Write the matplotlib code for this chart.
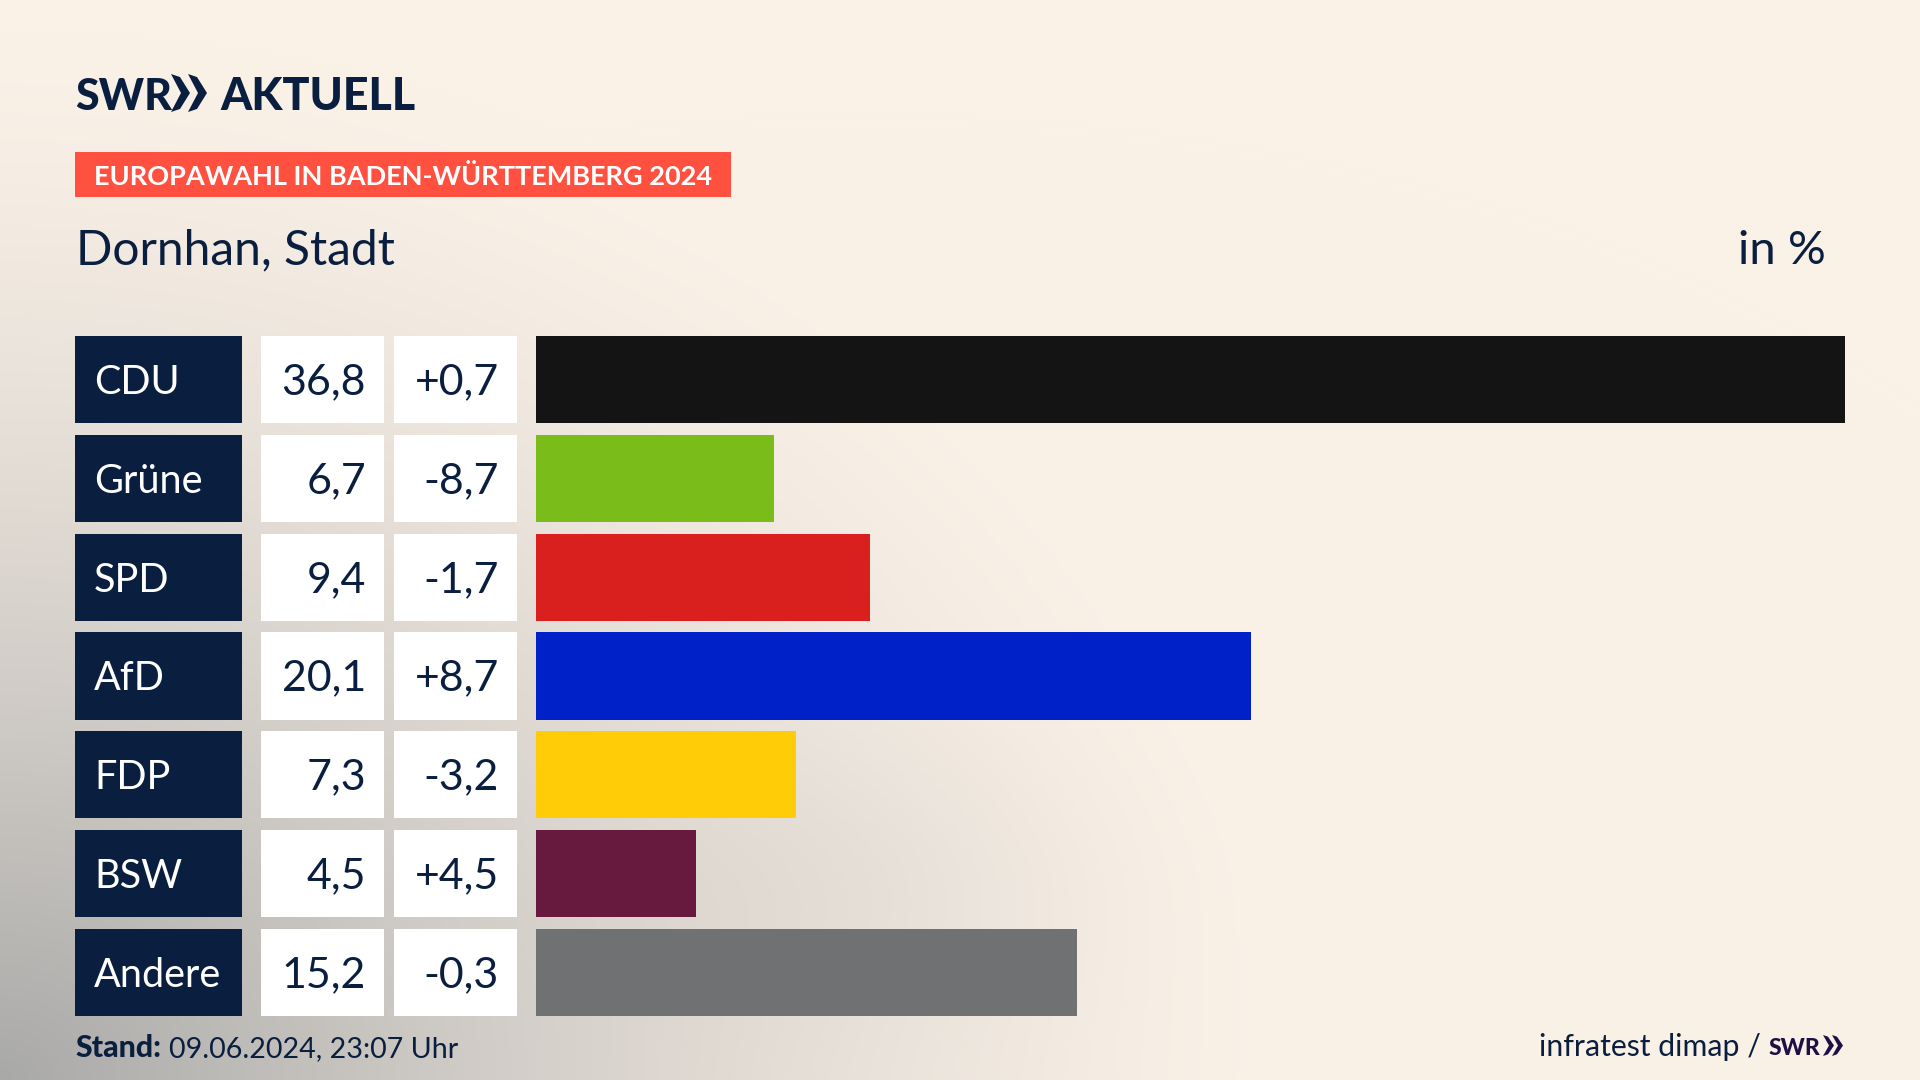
import numpy as np
import matplotlib
matplotlib.use("Agg")
import matplotlib.pyplot as plt
from matplotlib.patches import Polygon, Rectangle
from matplotlib.colors import to_rgb

parties = ["CDU", "Grüne", "SPD", "AfD", "FDP", "BSW", "Andere"]
shares = [36.8, 6.7, 9.4, 20.1, 7.3, 4.5, 15.2]
changes = [0.7, -8.7, -1.7, 8.7, -3.2, 4.5, -0.3]
colors = ["#141414", "#7ABD1A", "#D9201E", "#0020C8", "#FFCC07", "#67193E", "#707173"]

NAVY = "#0A1F3F"
W, H = 1920, 1080
FONT = "Lato"
plt.rcParams["font.family"] = [FONT, "DejaVu Sans"]

def de(v, sign=False):
    s = f"{v:+.1f}" if sign else f"{v:.1f}"
    return s.replace(".", ",")

def px_axes(fig, x0, y0, x1, y1):
    return fig.add_axes([x0 / W, 1 - y1 / H, (x1 - x0) / W, (y1 - y0) / H])

fig = plt.figure(figsize=(W / 100, H / 100), dpi=100)

# background gradient
bg = px_axes(fig, 0, 0, W, H)
yy, xx = np.mgrid[0:H:270j, 0:W:480j]
cream = np.array(to_rgb("#FAF1E7"))
grey = np.array(to_rgb("#A9A9A8"))
d = np.sqrt((xx / 1300.0) ** 2 + ((H - yy) / 1050.0) ** 2)
a = np.clip(1 - d, 0, 1) ** 1.45
blob = 0.07 * np.exp(-(((xx - 860) / 230.0) ** 2 + ((yy - 880) / 130.0) ** 2))
a = np.clip(a + blob, 0, 1)
img = cream[None, None, :] * (1 - a[..., None]) + grey[None, None, :] * a[..., None]
bg.imshow(img, extent=(0, W, H, 0), aspect="auto", interpolation="bilinear")
bg.set_xlim(0, W)
bg.set_ylim(H, 0)
bg.axis("off")

# header band and logo
bg.add_patch(Rectangle((75, 152), 656, 45, color="#FF5040", lw=0))
bg.text(94, 185, "EUROPAWAHL IN BADEN-WÜRTTEMBERG 2024", color="white", fontsize=19.5,
        fontweight="bold", va="baseline", ha="left")
bg.text(76, 264, "Dornhan, Stadt", color=NAVY, fontsize=34.6, va="baseline", ha="left")
bg.text(1826, 264, "in %", color=NAVY, fontsize=34, va="baseline", ha="right")

bg.text(75, 110, "SWR", color=NAVY, fontsize=31, fontweight=900, va="baseline", ha="left")
bg.text(220, 110, "AKTUELL", color=NAVY, fontsize=32.2, fontweight=900, va="baseline", ha="left")

def chevrons(x, y0, y1, w, step, t, c):
    m = (y0 + y1) / 2
    for k in range(2):
        o = x + k * step
        bg.add_patch(Polygon([(o, y0), (o + t, y0 + (y1 - y0) * 0.08), (o + w, m),
                              (o + t, y1 - (y1 - y0) * 0.08), (o, y1), (o + w - t, m)],
                             closed=True, color=c, lw=0))

chevrons(171, 74, 112, 19, 17, 9, NAVY)

# footer
bg.text(75, 1057, "Stand:", color=NAVY, fontsize=21.8, fontweight=900, va="baseline", ha="left")
bg.text(169, 1057, "09.06.2024, 23:07 Uhr", color=NAVY, fontsize=20.6, va="baseline", ha="left")
bg.text(1761, 1056, "infratest dimap /", color=NAVY, fontsize=21.8, va="baseline", ha="right")
bg.text(1769, 1055, "SWR", color="#1F0F45", fontsize=16.5, fontweight=900, va="baseline", ha="left")
chevrons(1823, 1035, 1056, 11, 9, 5, "#1F0F45")

# rows
n = len(parties)
ypos = np.arange(n)
BAR_H = 0.885
TOP, BOTTOM = 336, 1016

def col_axes(x0, x1):
    ax = px_axes(fig, x0, TOP, x1, BOTTOM)
    ax.set_ylim(n - 1 + BAR_H / 2, -BAR_H / 2)
    ax.axis("off")
    ax.patch.set_alpha(0)
    return ax

ax_name = col_axes(75, 242)
ax_val = col_axes(261, 384)
ax_chg = col_axes(394, 517)
ax_bar = col_axes(536, 1845)

for ax, c in ((ax_name, NAVY), (ax_val, "white"), (ax_chg, "white")):
    ax.barh(ypos, 1, height=BAR_H, color=c, lw=0)
    ax.set_xlim(0, 1)

ax_bar.barh(ypos, shares, height=BAR_H, color=colors, lw=0)
ax_bar.set_xlim(0, max(shares))

BASE = -14.5
for i in ypos:
    ax_name.annotate(parties[i], (0, i), xytext=(19, BASE), xycoords="data", textcoords="offset pixels",
                     color="white", fontsize=28.5, ha="left", va="baseline")
    ax_val.annotate(de(shares[i]), (1, i), xytext=(-18, BASE), xycoords="data", textcoords="offset pixels",
                    color=NAVY, fontsize=30.9, ha="right", va="baseline")
    ax_chg.annotate(de(changes[i], True), (1, i), xytext=(-18, BASE), xycoords="data", textcoords="offset pixels",
                    color=NAVY, fontsize=30.9, ha="right", va="baseline")

fig.savefig("out.png", dpi=100)
